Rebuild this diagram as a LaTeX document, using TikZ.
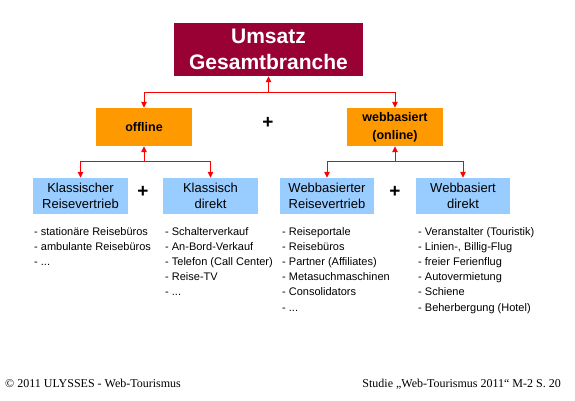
\documentclass[tikz,border=0pt]{standalone}
\usepackage{fontspec}
\setmainfont{Liberation Sans}
\newfontfamily\serifft{Liberation Serif}
\usetikzlibrary{arrows.meta}
\definecolor{topred}{HTML}{990033}
\definecolor{orangebox}{HTML}{FF9900}
\definecolor{bluebox}{HTML}{99CCFF}
\definecolor{arrred}{HTML}{FF0000}
\newcommand\mydots{...}
\tikzset{
  topbox/.style={fill=topred, text=white, minimum width=189pt, minimum height=53pt, inner sep=0pt, align=center, font=\fontsize{21}{26}\selectfont\bfseries},
  midbox/.style={fill=orangebox, text=black, minimum width=96pt, minimum height=38pt, inner sep=0pt, align=center, font=\fontsize{12.5}{18}\selectfont\bfseries},
  lowbox/.style={fill=bluebox, text=black, minimum width=95pt, minimum height=36pt, inner sep=0pt, align=center, font=\fontsize{13}{16}\selectfont},
  conn/.style={draw=arrred, line width=1pt, -{Triangle[length=6pt,width=5.5pt]}},
  plussign/.style={inner sep=0pt, font=\fontsize{19}{19}\selectfont\bfseries},
  item/.style={inner sep=0pt, anchor=base west, font=\fontsize{11}{13}\selectfont},
  foot/.style={inner sep=0pt, font=\serifft\fontsize{12}{14}\selectfont}
}
\begin{document}
\begin{tikzpicture}[x=1pt,y=-1pt]
\useasboundingbox (0,0) rectangle (575,400);
\fill[white] (0,0) rectangle (575,400);

\node[topbox] (top) at (268.5,49.5) {Umsatz\\Gesamtbranche};
\node[midbox] (off) at (144,127) {offline};
\node[midbox] (web) at (395,127) {webbasiert\\(online)};
\node[lowbox] (b1) at (80.5,196) {Klassischer\\Reisevertrieb};
\node[lowbox] (b2) at (210.5,196) {Klassisch\\direkt};
\node[lowbox, minimum width=94pt] (b3) at (327,196) {Webbasierter\\Reisevertrieb};
\node[lowbox, minimum width=94pt] (b4) at (463,196) {Webbasiert\\direkt};

\node[plussign] (p0) at (268,123) {+};
\node[plussign] (p1) at (143,192) {+};
\node[plussign] (p2) at (395,192) {+};

\coordinate (j0) at (268.5,92);
\coordinate (j1) at (144,161.5);
\coordinate (j2) at (395,161.5);
\draw[conn] (j0) -- (top.south);
\draw[conn] (j0) -| (off.north);
\draw[conn] (j0) -| (web.north);
\draw[conn] (j1) -- (off.south);
\draw[conn] (j1) -| (b1.north);
\draw[conn] (j1) -| (b2.north);
\draw[conn] (j2) -- (web.south);
\draw[conn] (j2) -| (b3.north);
\draw[conn] (j2) -| (b4.north);

\foreach \t [count=\i] in {{- stationäre Reisebüros}, {- ambulante Reisebüros}, {- \mydots}}
  \node[item] (la\i) at (34,{235+15.2*(\i-1)}) {\t};
\foreach \t [count=\i] in {{- Schalterverkauf}, {- An-Bord-Verkauf}, {- Telefon (Call Center)}, {- Reise-TV}, {- \mydots}}
  \node[item] (lb\i) at (165,{235+15.2*(\i-1)}) {\t};
\foreach \t [count=\i] in {{- Reiseportale}, {- Reisebüros}, {- Partner (Affiliates)}, {- Metasuchmaschinen}, {- Consolidators}, {- \mydots}}
  \node[item] (lc\i) at (282,{235+15.2*(\i-1)}) {\t};
\foreach \t [count=\i] in {{- Veranstalter (Touristik)}, {- Linien-, Billig-Flug}, {- freier Ferienflug}, {- Autovermietung}, {- Schiene}, {- Beherbergung (Hotel)}}
  \node[item] (ld\i) at (418,{235+15.2*(\i-1)}) {\t};

\node[foot, anchor=base west] (fl) at (5,387) {© 2011 ULYSSES - Web-Tourismus};
\node[foot, anchor=base east] (fr) at (561,387) {Studie „Web-Tourismus 2011“ M-2 S. 20};
\end{tikzpicture}
\end{document}
